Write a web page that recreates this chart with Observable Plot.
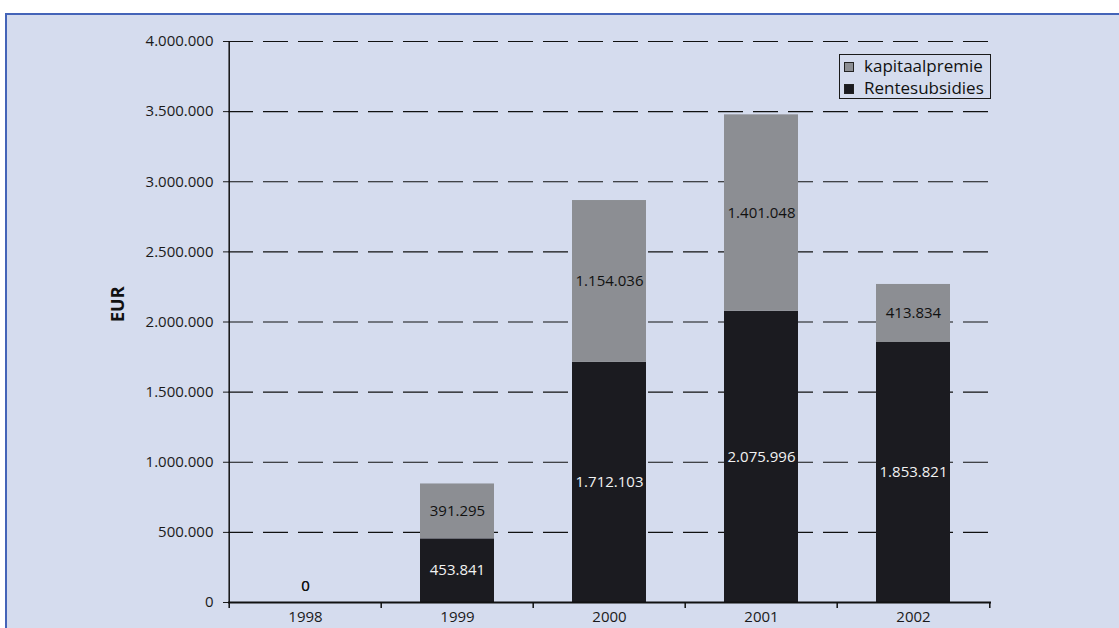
<!DOCTYPE html>
<html><head><meta charset="utf-8">
<script src="https://cdn.jsdelivr.net/npm/d3@7"></script>
<script src="https://cdn.jsdelivr.net/npm/@observablehq/plot@0.6"></script>
<style>
body{margin:0;background:#fff;width:1119px;height:628px;overflow:hidden;position:relative;font-family:"Open Sans",sans-serif;}
#panel{position:absolute;left:5px;top:13px;width:1130px;height:640px;background:#d5dcee;border:2px solid #4464b8;}
#chart{position:absolute;left:0;top:0;}
#legend{position:absolute;left:839px;top:54px;width:152px;height:45px;border:1px solid #1a1a1a;box-sizing:border-box;font-size:17px;color:#111;}
.item{position:absolute;left:4px;height:20px;line-height:20px;}
.sw{position:absolute;left:0;top:6px;width:8px;height:8px;border:1px solid #222;}
.item span{position:absolute;left:20px;white-space:nowrap;}
</style></head>
<body>
<div id="panel"></div>
<div id="chart"></div>
<div id="legend">
  <div class="item" style="top:1px"><div class="sw" id="sw0"></div><span>kapitaalpremie</span></div>
  <div class="item" style="top:23px"><div class="sw" id="sw1"></div><span>Rentesubsidies</span></div>
</div>
<script>
const years = ["1998", "1999", "2000", "2001", "2002"];
const series = ["Rentesubsidies", "kapitaalpremie"];
const rentesubsidies = [0, 453841, 1712103, 2075996, 1853821];
const kapitaalpremie = [0, 391295, 1154036, 1401048, 413834];
const yTicks = [0, 500000, 1000000, 1500000, 2000000, 2500000, 3000000, 3500000, 4000000];
const colors = ["#1b1b20", "#8c8e93"];

const data = [];
years.forEach((y, i) => {
  data.push({year: y, series: series[0], value: rentesubsidies[i]});
  data.push({year: y, series: series[1], value: kapitaalpremie[i]});
});

const fmt = d3.formatLocale({decimal: ",", thousands: ".", grouping: [3], currency: ["", "€"]}).format(",d");

document.getElementById("sw0").style.background = colors[1];
document.getElementById("sw1").style.background = colors[0];

const W = 1119, H = 628, ML = 228, MR = 128, MT = 41, MB = 26;
const step = (W - ML - MR) / years.length;

const stackOpts = {x: "year", y: "value", z: "series", order: series, text: d => fmt(d.value)};

const chart = Plot.plot({
  width: W, height: H,
  marginLeft: ML, marginRight: MR, marginTop: MT, marginBottom: MB,
  style: {background: "transparent", fontFamily: "'Open Sans', sans-serif", color: "#1a1a1a"},
  x: {domain: years, paddingInner: 0.51, paddingOuter: 0.255},
  y: {domain: [0, 4000000]},
  color: {domain: series, range: colors},
  marks: [
    Plot.gridY(yTicks, {stroke: "#111", strokeOpacity: 1, strokeDasharray: "25,10", strokeWidth: 1.2}),
    Plot.barY(data, Plot.stackY({x: "year", y: "value", z: "series", order: series, fill: "series"})),
    Plot.text(data, Plot.filter(d => d.series === series[0] && d.value > 0, Plot.stackY({...stackOpts, fill: "#f2f2f2", fontSize: 15}))),
    Plot.text(data, Plot.filter(d => d.series === series[1] && d.value > 0, Plot.stackY({...stackOpts, fill: "#111", fontSize: 15}))),
    Plot.text(data, Plot.filter(d => d.value === 0, Plot.stackY({...stackOpts, fill: "#111", fontSize: 15, dy: -16}))),
    Plot.axisY(yTicks, {tickFormat: fmt, tickSize: 5, tickPadding: 10, fontSize: 15, label: null}),
    Plot.axisX({tickSize: 0, tickPadding: 9, fontSize: 15, label: null}),
    Plot.ruleX([years[0]], {x: d => d, y1: 0, y2: 4000000, dx: -step / 2, stroke: "#111", strokeWidth: 1.5}),
    Plot.ruleY([0], {stroke: "#111", strokeWidth: 2}),
    Plot.ruleX(years, {x: d => d, y1: 0, y2: 0, dx: -step / 2, insetBottom: -6, stroke: "#111", strokeWidth: 1.5}),
    Plot.ruleX([years[years.length - 1]], {x: d => d, y1: 0, y2: 0, dx: step / 2, insetBottom: -6, stroke: "#111", strokeWidth: 1.5}),
    Plot.text(["EUR"], {frameAnchor: "left", dx: -110, rotate: -90, fontWeight: "bold", fontSize: 18, fill: "#111"})
  ]
});
document.getElementById("chart").appendChild(chart);
</script>
</body></html>
